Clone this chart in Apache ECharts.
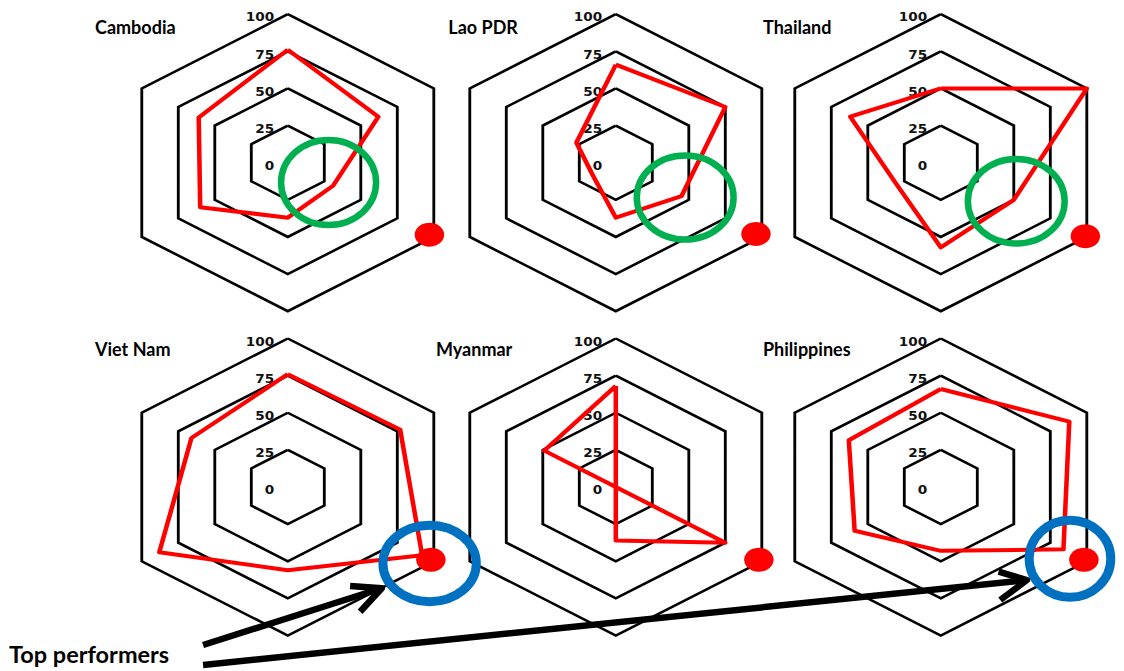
<!DOCTYPE html>
<html>
<head>
<meta charset="utf-8">
<script src="https://cdn.jsdelivr.net/npm/echarts@6/dist/echarts.min.js"></script>
<style>
html,body{margin:0;padding:0;background:#fff;overflow:hidden}
#wrap{width:1124px;height:671px;overflow:hidden;position:relative;background:#fff}
#chart{width:990px;height:671px;transform:scaleX(1.135354);transform-origin:0 0}
</style>
</head>
<body>
<div id="wrap"><div id="chart"></div></div>
<script>
// ---------------- data ----------------
const countries = ['Cambodia', 'Lao PDR', 'Thailand', 'Viet Nam', 'Myanmar', 'Philippines'];
// radar axes, counter-clockwise starting at the top vertex
const axisKeys = ['Top', 'Upper left', 'Lower left', 'Bottom', 'Lower right', 'Upper right'];
const tickLabels = ['0', '25', '50', '75', '100'];
const cambodia    = [76, 61, 60, 37, 31, 62];
const laoPDR      = [66, 27, 16, 37, 45, 75];
const thailand    = [50, 62, 30, 57, 50, 100];
const vietNam     = [76, 66, 88, 56, 92, 77];
const myanmar     = [68, 49, 0, 36, 75, 0];
const philippines = [66, 63, 59, 43, 84, 88];
// red target dot on the lower-right axis
const targetValues = [97, 96, 99, 98, 98, 98];
const seriesValues = [cambodia, laoPDR, thailand, vietNam, myanmar, philippines];

// ---------------- layout ----------------
const S = 1124 / 990;               // horizontal stretch of the picture
const colX = [287.8 / S, 615.8 / S, 940.8 / S];
const rowY = [162.7, 487];
const R = 148.5;

const radars = [], polars = [], angleAxes = [], radiusAxes = [], series = [];
countries.forEach((c, i) => {
  const center = [colX[i % 3], rowY[Math.floor(i / 3)]];
  radars.push({
    center: center,
    radius: R,
    startAngle: 90,
    splitNumber: 4,
    shape: 'polygon',
    indicator: axisKeys.map((k, j) => {
      const ind = { name: k, min: 0, max: 100 };
      if (j === 0) ind.axisLabel = { show: true };
      return ind;
    }),
    axisName: { show: false },
    axisLine: { show: false },
    axisTick: { show: false },
    splitArea: { show: false },
    splitLine: { lineStyle: { color: '#000', width: 2.5 } },
    axisLabel: {
      show: false,
      color: '#111',
      fontFamily: 'DejaVu Sans',
      fontWeight: 'bold',
      fontSize: 12,
      margin: 12,
      verticalAlign: 'top',
      lineHeight: 6,
      formatter: v => tickLabels[Math.round(v / 25)]
    }
  });
  polars.push({ center: center, radius: R });
  angleAxes.push({ polarIndex: i, type: 'value', min: 0, max: 360, startAngle: 90, clockwise: false, show: false });
  radiusAxes.push({ polarIndex: i, type: 'value', min: 0, max: 100, show: false });
  series.push({
    type: 'radar',
    radarIndex: i,
    name: c,
    symbol: 'none',
    lineStyle: { color: '#ff0000', width: 4 },
    data: [{ name: c, value: seriesValues[i] }],
    z: 2
  });
  series.push({
    type: 'scatter',
    coordinateSystem: 'polar',
    polarIndex: i,
    symbol: 'circle',
    symbolSize: [26, 24],
    itemStyle: { color: '#ff0000', opacity: 1 },
    data: [[targetValues[i], 240]],
    z: 3
  });
});

// annotations, drawn in picture pixels (group counter-scaled)
const titlePos = [[95, 27], [448.3, 27.5], [763, 27], [95, 349.5], [436, 349.5], [763, 349.5]];
const greenRings = [[328.5, 182.5, 47.5, 42.5], [685, 197.5, 48.4, 42], [1016, 201.2, 48.4, 42.3]];
const blueRings = [[429.5, 563.5, 46.7, 38.2], [1069.7, 558.7, 40.8, 38.5]];
const children = [];
countries.forEach((c, i) => {
  children.push({
    type: 'text', x: titlePos[i][0], y: titlePos[i][1], z: 10,
    style: { text: c, font: 'bold 18px Lato', fill: '#000', align: 'left', verticalAlign: 'middle' }
  });
});
greenRings.forEach(g => children.push({
  type: 'ellipse', z: 10, shape: { cx: g[0], cy: g[1], rx: g[2], ry: g[3] },
  style: { fill: 'none', stroke: '#00b050', lineWidth: 6.5 }
}));
blueRings.forEach(g => children.push({
  type: 'ellipse', z: 10, shape: { cx: g[0], cy: g[1], rx: g[2], ry: g[3] },
  style: { fill: 'none', stroke: '#0070c0', lineWidth: 9 }
}));
children.push(
  { type: 'line', z: 11, shape: { x1: 203, y1: 645, x2: 379, y2: 589 }, style: { stroke: '#000', lineWidth: 6.5 } },
  { type: 'polyline', z: 11, shape: { points: [[350, 586], [381.7, 588.3], [360, 611.7]] }, style: { stroke: '#000', lineWidth: 6.5, fill: 'none', lineJoin: 'round' } },
  { type: 'line', z: 11, shape: { x1: 203, y1: 665, x2: 1024, y2: 580.3 }, style: { stroke: '#000', lineWidth: 6.5 } },
  { type: 'polyline', z: 11, shape: { points: [[998.3, 571.7], [1026.7, 580], [1000, 600]] }, style: { stroke: '#000', lineWidth: 6.5, fill: 'none', lineJoin: 'round' } },
  { type: 'text', x: 9, y: 654.5, z: 11, style: { text: 'Top performers', font: 'bold 23.5px Lato', fill: '#000', align: 'left', verticalAlign: 'middle' } }
);

const chart = echarts.init(document.getElementById('chart'), null, { renderer: 'svg' });
chart.setOption({
  backgroundColor: '#fff',
  animation: false,
  radar: radars,
  polar: polars,
  angleAxis: angleAxes,
  radiusAxis: radiusAxes,
  series: series,
  graphic: [{ type: 'group', x: 0, y: 0, scaleX: 1 / S, scaleY: 1, children: children }]
});
</script>
</body>
</html>
